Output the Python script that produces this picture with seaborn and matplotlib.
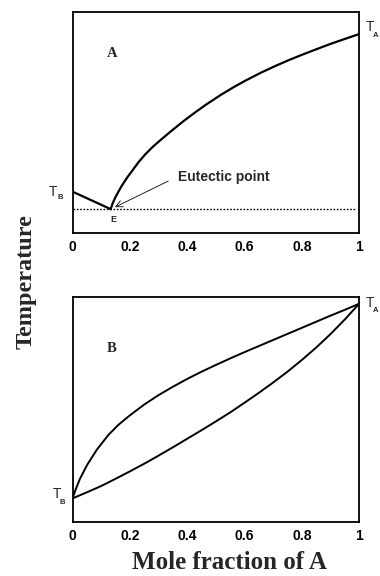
import matplotlib
matplotlib.use("Agg")
import matplotlib.pyplot as plt
import seaborn as sns
import pandas as pd

# ---------------- data ----------------
# Panel A: eutectic diagram
tb_line_x = [0.0, 0.133]
tb_line_y = [0.187, 0.108]
liqA_x = [0.133, 0.14, 0.15, 0.16, 0.171, 0.19, 0.21, 0.23, 0.253, 0.28, 0.31,
          0.345, 0.386, 0.425, 0.467, 0.52, 0.565, 0.607, 0.66, 0.71, 0.758,
          0.80, 0.85, 0.897, 0.95, 1.0]
liqA_y = [0.108, 0.135, 0.163, 0.187, 0.212, 0.25, 0.285, 0.32, 0.355, 0.39, 0.424,
          0.462, 0.505, 0.543, 0.582, 0.627, 0.662, 0.692, 0.727, 0.757, 0.784,
          0.806, 0.831, 0.854, 0.878, 0.90]
eutectic_y = 0.109
eutectic_x = 0.133

# Panel B: ideal solution lens
upper_x = [0.0, 0.01, 0.025, 0.05, 0.085, 0.125, 0.16, 0.2, 0.25, 0.3, 0.35, 0.4,
           0.45, 0.5, 0.55, 0.6, 0.65, 0.7, 0.75, 0.8, 0.85, 0.9, 0.95, 1.0]
upper_y = [0.105, 0.142, 0.19, 0.252, 0.322, 0.387, 0.432, 0.474, 0.522, 0.564,
           0.601, 0.636, 0.668, 0.698, 0.727, 0.755, 0.782, 0.809, 0.836, 0.863,
           0.89, 0.917, 0.943, 0.97]
lower_x = [0.0, 0.05, 0.1, 0.15, 0.2, 0.25, 0.3, 0.35, 0.4, 0.45, 0.5, 0.55, 0.6,
           0.65, 0.7, 0.75, 0.8, 0.85, 0.9, 0.95, 1.0]
lower_y = [0.105, 0.132, 0.16, 0.192, 0.225, 0.259, 0.295, 0.332, 0.37, 0.408,
           0.447, 0.487, 0.53, 0.574, 0.62, 0.668, 0.72, 0.775, 0.835, 0.9, 0.97]

xticks = [0, 0.2, 0.4, 0.6, 0.8, 1]
xtick_labels = ["0", "0.2", "0.4", "0.6", "0.8", "1"]

# ---------------- style ----------------
sns.set_theme(style="white")
plt.rcParams["font.family"] = ["Liberation Sans", "DejaVu Sans"]

fig = plt.figure(figsize=(3.8, 5.76), dpi=100)
axA = fig.add_axes([0.191, 0.5955, 0.754, 0.3837])
axB = fig.add_axes([0.191, 0.09375, 0.754, 0.3906])

def style_axes(ax):
    ax.set_xlim(0, 1)
    ax.set_ylim(0, 1)
    ax.set_xticks(xticks)
    ax.set_xticklabels(xtick_labels, fontsize=10, fontweight="bold")
    ax.set_yticks([])
    ax.tick_params(axis="x", length=0, pad=5, colors="black")
    for s in ax.spines.values():
        s.set_visible(True)
        s.set_color("black")
        s.set_linewidth(1.3)
    ax.set_xlabel("")
    ax.set_ylabel("")

def line(ax, x, y, **kw):
    df = pd.DataFrame({"x": x, "y": y})
    sns.lineplot(data=df, x="x", y="y", ax=ax, sort=False, estimator=None,
                 color="black", **kw)

# Panel A
line(axA, tb_line_x, tb_line_y, linewidth=1.6)
line(axA, liqA_x, liqA_y, linewidth=1.6)
axA.axhline(eutectic_y, xmin=0, xmax=0.985, color="black", linewidth=1.0,
            linestyle=(0, (1.2, 1.2)))
style_axes(axA)
axA.text(0.137, 0.81, "A", transform=axA.transAxes, ha="center", va="center",
         fontsize=10.5, fontweight="bold", family="Liberation Serif")
axA.text(0.368, 0.253, "Eutectic point", ha="left", va="center",
         fontsize=10, fontweight="bold")
axA.annotate("", xy=(eutectic_x + 0.015, eutectic_y + 0.008), xytext=(0.334, 0.235),
             arrowprops=dict(arrowstyle="->", color="black", lw=0.6,
                             shrinkA=0, shrinkB=0))
axA.text(eutectic_x + 0.008, 0.063, "E", ha="center", va="center",
         fontsize=6.5, fontweight="bold")
# T labels panel A
axA.text(-0.068, 0.187, "T", ha="center", va="center", fontsize=10, clip_on=False)
axA.text(-0.044, 0.160, "B", ha="center", va="center", fontsize=5.5,
         fontweight="bold", clip_on=False)
axA.text(1.038, 0.93, "T", ha="center", va="center", fontsize=10, clip_on=False)
axA.text(1.058, 0.895, "A", ha="center", va="center", fontsize=5.5,
         fontweight="bold", clip_on=False)

# Panel B
line(axB, upper_x, upper_y, linewidth=1.4)
line(axB, lower_x, lower_y, linewidth=1.4)
style_axes(axB)
axB.text(0.137, 0.769, "B", transform=axB.transAxes, ha="center", va="center",
         fontsize=10.5, fontweight="bold", family="Liberation Serif")
axB.text(-0.054, 0.125, "T", ha="center", va="center", fontsize=10, clip_on=False)
axB.text(-0.036, 0.087, "B", ha="center", va="center", fontsize=5.5,
         fontweight="bold", clip_on=False)
axB.text(1.038, 0.975, "T", ha="center", va="center", fontsize=10, clip_on=False)
axB.text(1.058, 0.94, "A", ha="center", va="center", fontsize=5.5,
         fontweight="bold", clip_on=False)

# shared labels
fig.text(0.068, 0.512, "Temperature", rotation=90, ha="center", va="center",
         fontsize=17.5, fontweight="bold", family="Liberation Serif")
fig.text(0.605, 0.024, "Mole fraction of A", ha="center", va="center",
         fontsize=18, fontweight="bold", family="Liberation Serif")

fig.savefig("out.png", dpi=100)
